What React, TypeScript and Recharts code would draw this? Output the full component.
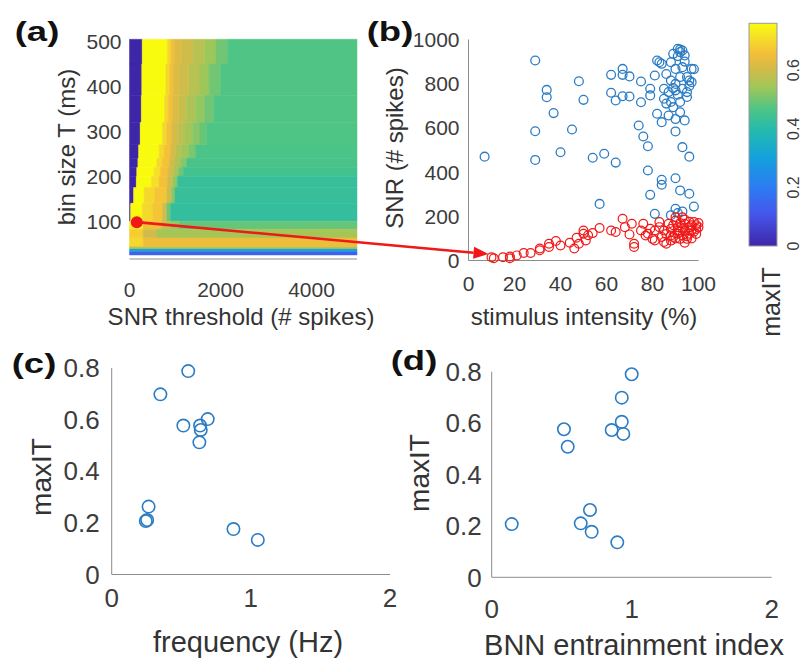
import React from "react";
import {
  ScatterChart,
  Scatter,
  BarChart,
  Bar,
  XAxis,
  YAxis,
  ReferenceArea,
  ReferenceLine,
} from "recharts";

const W = 803;
const H = 660;
const FONT = '"Liberation Sans", Arial, Helvetica, sans-serif';
const AXIS = "#8c8c8c";
const TXT = "#3c3c3c";
const BLUE = "#2b7cc4";
const RED = "#f01818";

// colormap (maxIT -> colour)
const cmapStops: [number, string][] = [
  [0, "#3e26a8"],
  [0.11, "#4557ec"],
  [0.2, "#2b7cf2"],
  [0.3, "#14a0dc"],
  [0.39, "#22b9b0"],
  [0.466, "#4cc486"],
  [0.54, "#9ec75a"],
  [0.606, "#d4bb48"],
  [0.658, "#f4bf38"],
  [0.72, "#f6e426"],
  [0.76, "#f9fb0e"],
];
const CMAX = 0.76;
const colorbarData = [{ name: "maxIT", top: CMAX }];

function hexToRgb(h: string) {
  const n = parseInt(h.slice(1), 16);
  return [(n >> 16) & 255, (n >> 8) & 255, n & 255];
}

function parula(v: number) {
  if (v <= cmapStops[0][0]) return cmapStops[0][1];
  for (let i = 1; i < cmapStops.length; i++) {
    const [v1, c1] = cmapStops[i];
    if (v <= v1) {
      const [v0, c0] = cmapStops[i - 1];
      const f = (v - v0) / (v1 - v0);
      const a = hexToRgb(c0);
      const b = hexToRgb(c1);
      const m = a.map((x, k) => Math.round(x + (b[k] - x) * f));
      return `rgb(${m[0]},${m[1]},${m[2]})`;
    }
  }
  return cmapStops[cmapStops.length - 1][1];
}

// (a) maxIT map: bands of bin size T (ms), each cut along the SNR threshold axis
const heatRowsT: [number, number][] = [
  [450, 505],
  [380, 450],
  [320, 380],
  [270, 320],
  [240, 270],
  [220, 240],
  [200, 220],
  [175, 200],
  [140, 175],
  [100, 140],
  [82, 100],
  [63, 82],
  [43, 63],
  [38, 43],
  [32, 38],
  [25, 32],
];
// [SNR threshold where the cell ends, maxIT]
const heatRowCells: [number, number][][] = [
  [[280, 0], [830, 0.76], [900, 0.7], [980, 0.66], [1150, 0.62], [1400, 0.6], [1650, 0.57], [1900, 0.54], [2150, 0.5], [5000, 0.47]],
  [[270, 0], [800, 0.76], [880, 0.7], [960, 0.66], [1100, 0.62], [1300, 0.6], [1550, 0.57], [1750, 0.54], [2000, 0.5], [5000, 0.47]],
  [[260, 0], [770, 0.76], [850, 0.7], [940, 0.66], [1080, 0.62], [1250, 0.59], [1450, 0.56], [1650, 0.53], [1850, 0.5], [5000, 0.47]],
  [[235, 0], [720, 0.76], [820, 0.7], [920, 0.66], [1050, 0.61], [1200, 0.58], [1380, 0.55], [1550, 0.52], [1700, 0.49], [5000, 0.468]],
  [[200, 0], [650, 0.76], [760, 0.7], [900, 0.66], [1020, 0.61], [1150, 0.57], [1300, 0.54], [1450, 0.51], [5000, 0.465]],
  [[185, 0], [600, 0.76], [720, 0.7], [880, 0.66], [1000, 0.6], [1120, 0.56], [1250, 0.52], [5000, 0.46]],
  [[160, 0], [540, 0.76], [680, 0.71], [850, 0.66], [980, 0.6], [1080, 0.55], [1180, 0.5], [5000, 0.45]],
  [[150, 0], [480, 0.76], [650, 0.71], [830, 0.66], [950, 0.6], [1050, 0.53], [5000, 0.43]],
  [[90, 0], [320, 0.76], [550, 0.7], [820, 0.67], [920, 0.6], [1000, 0.52], [5000, 0.43]],
  [[25, 0], [280, 0.76], [500, 0.7], [720, 0.67], [820, 0.6], [900, 0.5], [5000, 0.425]],
  [[300, 0.74], [700, 0.66], [900, 0.58], [1100, 0.53], [5000, 0.49]],
  [[300, 0.68], [600, 0.6], [5000, 0.55]],
  [[300, 0.7], [5000, 0.645]],
  [[5000, 0.58]],
  [[5000, 0.32]],
  [[5000, 0.14]],
];
const optimum = [{ s: 160, t: 98 }];
const arrowEnd = { s: 7890, t: 27 };

// (b) SNR vs stimulus intensity: [intensity %, SNR]
const bluePoints: [number, number][] = [
  [7, 470], [29, 905], [34, 772], [34, 739], [37, 667], [29, 585], [29, 455], [40, 490],
  [45, 593], [48, 811], [50, 727], [54, 465], [59, 483], [64, 443], [57, 256], [62, 840],
  [62, 759], [64, 724], [67, 867], [67, 840], [70, 833], [67, 743], [70, 742], [75, 810],
  [75, 716], [74, 611], [76, 561], [78, 517], [78, 407], [79, 297], [81, 211], [84, 365],
  [84, 343], [90, 372], [92, 317], [96, 302], [98, 244], [90, 234], [93, 513], [96, 470],
  [90, 584], [94, 634], [90, 640], [87, 656], [84, 626], [82, 664], [79, 747], [79, 777],
  [81, 837], [82, 905], [84, 890], [88, 897], [89, 935], [91, 958], [92, 943], [94, 928],
  [90, 867], [93, 875], [97, 867], [98, 866], [88, 814], [92, 830], [96, 814], [85, 777],
  [87, 762], [90, 770], [93, 777], [95, 762], [85, 732], [88, 717], [92, 717], [89, 694],
  [92, 671], [95, 740], [97, 807], [86, 844], [90, 799], [86, 710], [95, 830], [83, 897],
  [88, 205], [91, 215], [93, 222], [92, 955], [93, 950], [91, 925], [94, 900], [89, 780],
  [91, 750], [96, 790],
];
const redPoints: [number, number][] = [
  [11, 10], [10, 15], [15, 15], [18, 10], [18, 18], [21, 23], [24, 34], [27, 34], [31, 46],
  [31, 54], [35, 61], [35, 76], [38, 88], [40, 68], [44, 80], [46, 54], [47, 103], [50, 136],
  [50, 121], [48, 76], [51, 91], [52, 114], [54, 124], [57, 147], [62, 136], [64, 129],
  [67, 189], [68, 151], [71, 166], [70, 118], [72, 61], [72, 76], [75, 136], [76, 166],
  [78, 121], [80, 98], [81, 136], [83, 151], [84, 106], [85, 136], [86, 76], [87, 166],
  [88, 143], [90, 181], [91, 121], [91, 151], [92, 98], [94, 166], [94, 136], [96, 121],
  [97, 159], [98, 174], [99, 143], [95, 98], [88, 113], [89, 106], [93, 113], [97, 136],
  [90, 196], [93, 196], [83, 174], [77, 113], [79, 144], [81, 91], [85, 84], [92, 170],
  [94, 185], [96, 150], [99, 160], [100, 170], [89, 160], [91, 135], [93, 145], [95, 110],
  [97, 100], [99, 120], [86, 120], [88, 90], [90, 100], [92, 130], [94, 80], [96, 175],
  [98, 130], [100, 150],
];

// (c) maxIT vs frequency (Hz)
const freqPoints: [number, number][] = [
  [0.55, 0.788], [0.35, 0.698], [0.515, 0.577], [0.635, 0.577], [0.69, 0.602], [0.64, 0.56],
  [0.63, 0.512], [0.265, 0.263], [0.245, 0.207], [0.255, 0.211], [0.875, 0.176], [1.05, 0.134],
];
// (d) maxIT vs BNN entrainment index
const bnnPoints: [number, number][] = [
  [0.143, 0.207], [0.516, 0.576], [0.543, 0.508], [0.702, 0.262], [0.636, 0.21], [0.714, 0.177],
  [0.897, 0.136], [0.857, 0.573], [0.929, 0.605], [0.94, 0.558], [0.929, 0.699], [1.0, 0.79],
];

const toXY = (pts: [number, number][]) => pts.map(([x, y]) => ({ x, y }));

const heatCells = heatRowsT.flatMap(([t0, t1], i) => {
  let prev = 0;
  return heatRowCells[i].map(([end, v]) => {
    const c = { s0: prev, s1: end, t0, t1, v };
    prev = end;
    return c;
  });
});

const ring = (r: number, color: string, sw: number) => (p: any) => (
  <circle cx={p.cx} cy={p.cy} r={r} fill="none" stroke={color} strokeWidth={sw} />
);

function Arrow(p: any) {
  const { x1, y1, x2, y2 } = p;
  const ang = Math.atan2(y2 - y1, x2 - x1);
  const len = 15;
  const half = 6;
  const bx = x2 - len * Math.cos(ang);
  const by = y2 - len * Math.sin(ang);
  const nx = -Math.sin(ang) * half;
  const ny = Math.cos(ang) * half;
  return (
    <g>
      <line x1={x1} y1={y1} x2={bx} y2={by} stroke={RED} strokeWidth={2.6} />
      <polygon points={`${x2},${y2} ${bx + nx},${by + ny} ${bx - nx},${by - ny}`} fill={RED} />
    </g>
  );
}

function ColorbarRect(p: any) {
  const { x, y, width, height } = p;
  return (
    <g>
      <defs>
        <linearGradient id="parulaBar" x1="0" y1="1" x2="0" y2="0">
          {cmapStops.map(([v, c]) => (
            <stop key={v} offset={v / CMAX} stopColor={c} />
          ))}
        </linearGradient>
      </defs>
      <rect x={x} y={y} width={width} height={height} fill="url(#parulaBar)" stroke="#9a9a9a" strokeWidth={1} />
    </g>
  );
}

function CbTick(p: any) {
  const { x, y, payload } = p;
  return (
    <text
      transform={`translate(${x},${y}) rotate(-90)`}
      textAnchor="middle"
      dominantBaseline="central"
      fontSize={16}
      fill={TXT}
      fontFamily={FONT}
    >
      {payload.value}
    </text>
  );
}

function Txt({
  x,
  y,
  size,
  children,
  rotate = false,
  bold = false,
  sx = 1,
}: {
  x: number;
  y: number;
  size: number;
  children: React.ReactNode;
  rotate?: boolean;
  bold?: boolean;
  sx?: number;
}) {
  return (
    <div
      style={{
        position: "absolute",
        left: x,
        top: y,
        transform: `translate(-50%,-50%) ${rotate ? "rotate(-90deg)" : ""} scaleX(${sx})`,
        whiteSpace: "nowrap",
        fontSize: size,
        fontFamily: FONT,
        fontWeight: bold ? 700 : 400,
        color: bold ? "#111" : "#333",
        lineHeight: 1,
      }}
    >
      {children}
    </div>
  );
}

const layer: React.CSSProperties = { position: "absolute", left: 0, top: 0 };
const tickAB = { fontSize: 21, fill: TXT, fontFamily: FONT };
const tickCD = { fontSize: 26, fill: TXT, fontFamily: FONT };

export default function App() {
  return (
    <div style={{ position: "absolute", left: 0, top: 0, width: W, height: H, background: "#fff", overflow: "hidden" }}>
      {/* (b) */}
      <div style={layer}>
        <ScatterChart width={W} height={H} margin={{ top: 39.5, right: 104.5, bottom: 359.5, left: 428.5 }}>
          <XAxis type="number" dataKey="x" domain={[0, 100]} ticks={[0, 20, 40, 60, 80, 100]}
            stroke={AXIS} tickLine={false} tickMargin={10} height={40} tick={tickAB} />
          <YAxis type="number" dataKey="y" domain={[0, 1000]} ticks={[0, 200, 400, 600, 800, 1000]}
            stroke={AXIS} tickLine={false} tickMargin={3} width={40} tick={tickAB} />
          <Scatter data={toXY(bluePoints)} isAnimationActive={false} shape={ring(4.4, BLUE, 1.3)} />
          <Scatter data={toXY(redPoints)} isAnimationActive={false} shape={ring(4.4, RED, 1.2)} />
        </ScatterChart>
      </div>

      {/* (a) */}
      <div style={layer}>
        <ScatterChart width={W} height={H} margin={{ top: 39.3, right: 446, bottom: 361, left: 89.5 }}>
          <XAxis type="number" dataKey="s" domain={[0, 5000]} ticks={[0, 2000, 4000]}
            stroke={AXIS} tickLine={false} tickMargin={17} height={40} tick={tickAB} />
          <YAxis type="number" dataKey="t" domain={[16, 505]} ticks={[100, 200, 300, 400, 500]}
            axisLine={false} tickLine={false} tickMargin={2} width={40} tick={tickAB} />
          {heatCells.map((c, i) => (
            <ReferenceArea key={i} x1={c.s0} x2={c.s1} y1={c.t0} y2={c.t1}
              fill={parula(c.v)} fillOpacity={1} stroke={parula(c.v)} strokeWidth={0.5} ifOverflow="visible" />
          ))}
          <ReferenceLine
            segment={[{ x: optimum[0].s, y: optimum[0].t }, { x: arrowEnd.s, y: arrowEnd.t }]}
            ifOverflow="visible"
            shape={Arrow}
          />
          <Scatter data={optimum} isAnimationActive={false}
            shape={(p: any) => <circle cx={p.cx} cy={p.cy} r={6} fill={RED} />} />
        </ScatterChart>
      </div>

      {/* colour bar */}
      <div style={layer}>
        <BarChart width={W} height={H} data={colorbarData} barCategoryGap={0}
          margin={{ top: 23.3, right: 0, bottom: 414, left: 749 }}>
          <XAxis dataKey="name" hide />
          <YAxis type="number" orientation="right" domain={[0, CMAX]} ticks={[0, 0.2, 0.4, 0.6]}
            axisLine={false} tickLine={false} tickSize={0} tickMargin={16} width={26} tick={<CbTick />} />
          <Bar dataKey="top" isAnimationActive={false} shape={ColorbarRect} />
        </BarChart>
      </div>

      {/* (c) */}
      <div style={layer}>
        <ScatterChart width={W} height={H} margin={{ top: 368, right: 413, bottom: 45.5, left: 71.7 }}>
          <XAxis type="number" dataKey="x" domain={[0, 2]} ticks={[0, 1, 2]}
            stroke={AXIS} tickLine={false} tickMargin={8} height={40} tick={tickCD} />
          <YAxis type="number" dataKey="y" domain={[0, 0.8]} ticks={[0, 0.2, 0.4, 0.6, 0.8]}
            stroke={AXIS} tickLine={false} tickMargin={6} width={40} tick={tickCD} />
          <Scatter data={toXY(freqPoints)} isAnimationActive={false} shape={ring(6.2, BLUE, 1.6)} />
        </ScatterChart>
      </div>

      {/* (d) */}
      <div style={layer}>
        <ScatterChart width={W} height={H} margin={{ top: 371.7, right: 31.3, bottom: 42.7, left: 451.7 }}>
          <XAxis type="number" dataKey="x" domain={[0, 2]} ticks={[0, 1, 2]}
            stroke={AXIS} tickLine={false} tickMargin={16} height={40} tick={tickCD} />
          <YAxis type="number" dataKey="y" domain={[0, 0.8]} ticks={[0, 0.2, 0.4, 0.6, 0.8]}
            stroke={AXIS} tickLine={false} tickMargin={4} width={40} tick={tickCD} />
          <Scatter data={toXY(bnnPoints)} isAnimationActive={false} shape={ring(6.2, BLUE, 1.6)} />
        </ScatterChart>
      </div>

      <Txt x={37} y={32} size={27} bold sx={1.35}>(a)</Txt>
      <Txt x={390} y={32} size={27} bold sx={1.35}>(b)</Txt>
      <Txt x={34} y={364} size={27} bold sx={1.35}>(c)</Txt>
      <Txt x={414} y={361} size={27} bold sx={1.35}>(d)</Txt>

      <Txt x={67} y={147} size={24} rotate>bin size T (ms)</Txt>
      <Txt x={241} y={317} size={24}>SNR threshold (# spikes)</Txt>
      <Txt x={395} y={148} size={24} rotate>SNR (# spikes)</Txt>
      <Txt x={584} y={317} size={24}>stimulus intensity (%)</Txt>
      <Txt x={771} y={302} size={25} rotate>maxIT</Txt>

      <Txt x={42} y={477} size={28} rotate>maxIT</Txt>
      <Txt x={248} y={642} size={29}>frequency (Hz)</Txt>
      <Txt x={420} y={473} size={28} rotate>maxIT</Txt>
      <Txt x={634} y={645} size={29}>BNN entrainment index</Txt>
    </div>
  );
}
